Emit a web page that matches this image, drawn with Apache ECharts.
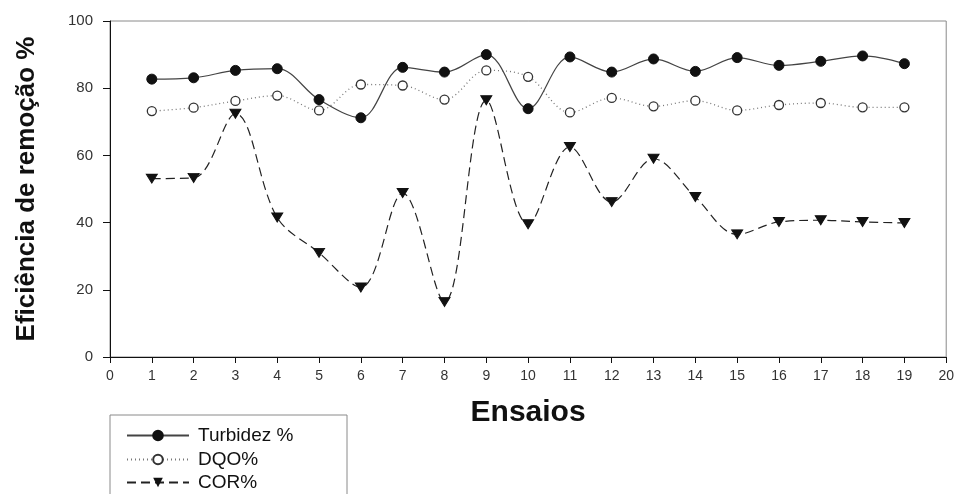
<!DOCTYPE html>
<html>
<head>
<meta charset="utf-8">
<script src="https://cdn.jsdelivr.net/npm/echarts@6/dist/echarts.min.js"></script>
<style>
  html, body { margin: 0; padding: 0; background: #fff; }
  #chart { width: 957px; height: 494px; }
</style>
</head>
<body>
<div id="chart"></div>
<script>
// Ensaios 1..19
const ensaios = [1, 2, 3, 4, 5, 6, 7, 8, 9, 10, 11, 12, 13, 14, 15, 16, 17, 18, 19];
const turbidez = [82.7, 83.1, 85.3, 85.8, 76.6, 71.2, 86.2, 84.8, 90.0, 73.9, 89.3, 84.8, 88.7, 85.0, 89.1, 86.8, 88.0, 89.6, 87.3];
const dqo = [73.2, 74.2, 76.2, 77.8, 73.4, 81.1, 80.8, 76.6, 85.3, 83.4, 72.8, 77.1, 74.6, 76.3, 73.4, 75.0, 75.6, 74.3, 74.3];
const cor = [53.1, 53.3, 72.4, 41.5, 31.0, 20.7, 48.8, 16.4, 76.4, 39.5, 62.5, 46.1, 59.0, 47.6, 36.5, 40.2, 40.7, 40.2, 39.9];
const seriesNames = ['Turbidez %', 'DQO%', 'COR%'];
const legendTops = [421, 445, 468];

const pairs = (ys) => ensaios.map((x, i) => [x, ys[i]]);
const font = 'Liberation Sans, Arial, sans-serif';

// one legend block per series, stacked inside a framed box
const legends = seriesNames.map((n, i) => ({
  orient: 'vertical', left: 121, top: legendTops[i],
  itemWidth: 62, itemHeight: 12,
  textStyle: { fontFamily: font, fontSize: 19, color: '#111', padding: [0, 0, 0, 4] },
  data: [n]
}));

const chart = echarts.init(document.getElementById('chart'), null, { renderer: 'canvas' });
chart.setOption({
  animation: false,
  backgroundColor: '#fff',
  grid: {
    left: 110, right: 10, top: 21, bottom: 137,
    show: true, borderColor: '#8a8a8a', borderWidth: 1
  },
  xAxis: {
    type: 'value', min: 0, max: 20, interval: 1,
    name: 'Ensaios', nameLocation: 'middle', nameGap: 41,
    nameTextStyle: { fontFamily: font, fontSize: 30, fontWeight: 'bold', color: '#111' },
    axisLine: { lineStyle: { color: '#111', width: 1 } },
    axisTick: { inside: false, length: 6, lineStyle: { color: '#111' } },
    axisLabel: { fontFamily: font, fontSize: 14, color: '#333', margin: 12 },
    splitLine: { show: false }
  },
  yAxis: {
    type: 'value', min: 0, max: 100, interval: 20,
    name: 'Eficiência de remoção %', nameLocation: 'middle', nameGap: 70, nameRotate: 90,
    nameTextStyle: { fontFamily: font, fontSize: 26, fontWeight: 'bold', color: '#111' },
    axisLine: { show: true, lineStyle: { color: '#111', width: 1 } },
    axisTick: { show: true, inside: false, length: 7, lineStyle: { color: '#111' } },
    axisLabel: { fontFamily: font, fontSize: 15, color: '#333', margin: 17 },
    splitLine: { show: false }
  },
  legend: legends,
  graphic: [{
    type: 'rect', silent: true, z: -1,
    shape: { x: 110, y: 415, width: 237, height: 100 },
    style: { fill: '#fff', stroke: '#8a8a8a', lineWidth: 1 }
  }],
  series: [
    {
      name: seriesNames[0], type: 'line', smooth: 0.35, data: pairs(turbidez),
      symbol: 'circle', symbolSize: 10,
      itemStyle: { color: '#111', borderColor: '#111', borderWidth: 1 },
      lineStyle: { color: '#444', width: 1.2, type: 'solid' }, z: 3
    },
    {
      name: seriesNames[1], type: 'line', smooth: 0.35, data: pairs(dqo),
      symbol: 'circle', symbolSize: 9,
      itemStyle: { color: '#fff', borderColor: '#333', borderWidth: 1.3 },
      lineStyle: { color: '#777', width: 1.3, type: [1, 3] }, z: 2
    },
    {
      name: seriesNames[2], type: 'line', smooth: 0.35, data: pairs(cor),
      symbol: 'triangle', symbolRotate: 180, symbolSize: [11, 9],
      itemStyle: { color: '#111', borderColor: '#111' },
      lineStyle: { color: '#222', width: 1.2, type: [9, 5] }, z: 2
    }
  ]
});
</script>
</body>
</html>
